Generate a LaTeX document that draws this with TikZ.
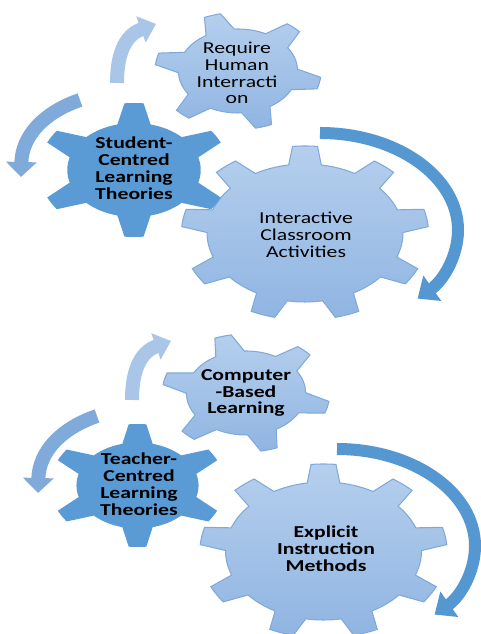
\documentclass[tikz,border=0pt]{standalone}
\usepackage{fontspec}
\setmainfont{Carlito}[FakeStretch=1.3]
\usetikzlibrary{arrows.meta}

\definecolor{geardark}{HTML}{5B9BD5}
\definecolor{geartop}{HTML}{B5CFED}
\definecolor{gearbottom}{HTML}{90B5E2}
\definecolor{gearedge}{HTML}{80A9DB}
\definecolor{arrowpale}{HTML}{A9C6E9}
\definecolor{arrowmid}{HTML}{7FAADA}
\definecolor{arrowdark}{HTML}{5597D0}

% #1 style, #2 centre, #3 teeth, #4 body radius, #5 tip radius, #6 first tooth
\newcommand{\gearshape}[6]{%
  \pgfmathsetmacro\gp{360/#3}
  \pgfmathsetmacro\gb{0.24*\gp}
  \pgfmathsetmacro\gt{5.8}
  \pgfmathtruncatemacro\gn{#3-1}
  \begin{scope}[shift={#2},xscale=1.42]
    \path[#1] (#6-\gp+\gb:#4)
      \foreach \k in {0,...,\gn}{
        arc[start angle=#6+\k*\gp-\gp+\gb, end angle=#6+\k*\gp-\gb, radius=#4]
        -- (#6+\k*\gp-\gt:#5)
        arc[start angle=#6+\k*\gp-\gt, end angle=#6+\k*\gp+\gt, radius=#5]
        -- (#6+\k*\gp+\gb:#4)}
      -- cycle;
  \end{scope}}

\tikzset{
  darkgear/.style={fill=geardark},
  palegear/.style={top color=geartop, bottom color=gearbottom, draw=gearedge, line width=0.6pt},
  gearlabel/.style={align=center, text=black, font=\fontsize{9.5}{9.6}\selectfont},
  boldlabel/.style={gearlabel, font=\fontsize{9.5}{9.6}\selectfont\bfseries},
  paleturn/.style={draw=arrowpale, line width=0.28cm, -{Triangle[width=0.54cm,length=0.32cm]}},
  midturn/.style={draw=arrowmid, line width=0.28cm, -{Triangle[width=0.6cm,length=0.3cm]}},
  darkturn/.style={draw=arrowdark, line width=0.24cm, -{Triangle[width=0.6cm,length=0.36cm]}}
}

\begin{document}
\begin{tikzpicture}[x=0.02cm, y=0.02cm]
    \useasboundingbox (0,0) rectangle (480,634);

    \gearshape{palegear}{(305,401)}{9}{69}{87}{90}
    \gearshape{darkgear}{(134,464)}{6}{47}{67}{90}
    \gearshape{palegear}{(238,563)}{6}{42}{58.5}{-12}
    \node[gearlabel] (interactive) at (306,399) {Interactive\\Classroom\\Activities};
    \node[boldlabel] (student) at (134,466) {Student-\\Centred\\Learning\\Theories};
    \node[gearlabel] (require) at (237,561) {Require\\Human\\Interracti\\on};
    \draw[paleturn] (117,551) .. controls (117,585) and (128,600) .. (156,610);
    \draw[midturn] (80,534) .. controls (45,522) and (22,499) .. (21,457);
    \draw[darkturn] (320,501) arc[start angle=90, end angle=-45, x radius=138, y radius=97];

    \gearshape{palegear}{(323.5,83)}{9}{69}{87}{90}
    \gearshape{darkgear}{(137.5,148.5)}{6}{43}{61.5}{90}
    \gearshape{palegear}{(246,241)}{6}{42}{59}{-14}
    \node[boldlabel] (explicit) at (326,85) {Explicit\\Instruction\\Methods};
    \node[boldlabel] (teacher) at (139,150) {Teacher-\\Centred\\Learning\\Theories};
    \node[boldlabel] (computer) at (246,241) {Computer\\-Based\\Learning};
    \draw[paleturn] (132,234) .. controls (132,268) and (143,283) .. (171,293);
    \draw[midturn] (97,218) .. controls (62,206) and (39,183) .. (38,141);
    \draw[darkturn] (337,185) arc[start angle=90, end angle=-45, x radius=138, y radius=97];
\end{tikzpicture}
\end{document}
